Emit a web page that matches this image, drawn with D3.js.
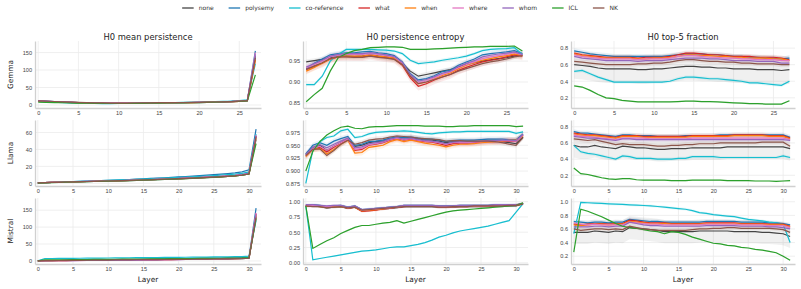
<!DOCTYPE html>
<html>
<head>
<meta charset="utf-8">
<script src="https://cdn.jsdelivr.net/npm/d3@7"></script>
<style>
  body { margin: 0; background: #fff; }
  svg { font-family: "DejaVu Sans", sans-serif; }
  .grid line { stroke: #ebebeb; stroke-width: 0.8; }
  .tick text { fill: #444; }
</style>
</head>
<body>
<div id="chart"></div>
<script>
var seriesNames = ["none", "polysemy", "co-reference", "what", "when", "where", "whom", "ICL", "NK"];
var seriesColors = ["#444444", "#1f77b4", "#17becf", "#d62728", "#ff7f0e", "#e377c2", "#9467bd", "#2ca02c", "#8c564b"];
var modelNames = ["Gemma", "Llama", "Mistral"];
var metricTitles = ["H0 mean persistence", "H0 persistence entropy", "H0 top-5 fraction"];

var gemmaLayers = d3.range(28);
var llamaLayers = d3.range(32);
var mistralLayers = d3.range(32);

// ---- Gemma: H0 mean persistence
var gemmaMeanNone = [11,10,9,8,7,6.5,6,5.5,5.2,5,5,5,5.2,5.5,5.8,6,6.2,6.4,6.5,6.8,7,7.4,8,8.6,9.4,10.5,12,140];
var gemmaMeanPoly = [12,11,10,9,8,7,6.5,6,5.6,5.4,5.3,5.4,5.6,5.9,6.2,6.4,6.6,6.8,7,7.3,7.6,8,8.6,9.3,10.2,11.4,13,155];
var gemmaMeanCoref = [10,9,8,7,6,5,4.5,4.2,4,4,4.2,4.5,5,5.4,5.8,6.2,6.6,7,7.4,7.8,8.3,8.8,9.4,10.1,11,12.5,15,118];
var gemmaMeanWhat = [11,10,9.2,8.4,7.6,7,6.4,6,5.6,5.4,5.3,5.3,5.5,5.7,6,6.2,6.4,6.6,6.8,7,7.3,7.7,8.2,8.8,9.6,10.6,12,130];
var gemmaMeanWhen = [10.5,9.8,9,8.2,7.4,6.8,6.2,5.8,5.5,5.3,5.2,5.2,5.4,5.6,5.9,6.1,6.3,6.5,6.7,6.9,7.2,7.6,8.1,8.7,9.5,10.5,12,128];
var gemmaMeanWhere = [11.5,10.5,9.6,8.7,7.8,7.1,6.5,6,5.6,5.4,5.3,5.3,5.5,5.8,6.1,6.3,6.5,6.7,6.9,7.1,7.4,7.8,8.3,8.9,9.7,10.8,12.3,150];
var gemmaMeanWhom = [11.8,10.8,9.8,8.9,8,7.2,6.6,6.1,5.7,5.5,5.4,5.4,5.6,5.9,6.2,6.4,6.6,6.8,7,7.2,7.5,7.9,8.4,9,9.8,10.9,12.5,145];
var gemmaMeanICL = [8,7.5,7,6.5,6,5.5,5,4.6,4.3,4.2,4.2,4.3,4.5,4.8,5.1,5.4,5.7,6,6.3,6.6,7,7.5,8,8.6,9.3,10.2,11.5,86];
var gemmaMeanNK = [12,11,10,9,8,7.3,6.7,6.2,5.8,5.6,5.5,5.5,5.7,6,6.3,6.5,6.7,6.9,7.1,7.3,7.6,8,8.5,9.1,9.9,11,12.5,135];

// ---- Gemma: H0 persistence entropy
var gemmaEntNone = [0.948,0.951,0.954,0.958,0.962,0.962,0.961,0.962,0.965,0.962,0.960,0.957,0.945,0.926,0.914,0.918,0.922,0.926,0.930,0.936,0.942,0.946,0.950,0.953,0.956,0.958,0.962,0.965];
var gemmaEntPoly = [0.932,0.945,0.955,0.965,0.968,0.970,0.970,0.972,0.973,0.970,0.968,0.963,0.948,0.920,0.905,0.908,0.915,0.925,0.928,0.940,0.948,0.955,0.965,0.968,0.970,0.972,0.975,0.968];
var gemmaEntCoref = [0.894,0.894,0.914,0.950,0.966,0.978,0.978,0.978,0.978,0.977,0.976,0.974,0.968,0.952,0.944,0.946,0.948,0.952,0.955,0.958,0.962,0.968,0.975,0.978,0.979,0.980,0.982,0.966];
var gemmaEntWhat = [0.930,0.938,0.945,0.955,0.960,0.961,0.960,0.960,0.963,0.960,0.958,0.955,0.940,0.910,0.890,0.896,0.905,0.912,0.918,0.928,0.935,0.942,0.948,0.952,0.955,0.960,0.965,0.962];
var gemmaEntWhen = [0.926,0.935,0.945,0.955,0.960,0.962,0.962,0.962,0.965,0.962,0.960,0.957,0.943,0.914,0.896,0.900,0.908,0.916,0.922,0.932,0.940,0.946,0.952,0.956,0.960,0.963,0.967,0.963];
var gemmaEntWhere = [0.934,0.942,0.950,0.960,0.964,0.966,0.966,0.966,0.968,0.966,0.963,0.960,0.945,0.916,0.898,0.902,0.910,0.918,0.924,0.934,0.942,0.948,0.956,0.960,0.963,0.966,0.970,0.965];
var gemmaEntWhom = [0.936,0.944,0.952,0.962,0.966,0.968,0.968,0.968,0.970,0.968,0.965,0.961,0.947,0.918,0.902,0.906,0.913,0.921,0.926,0.937,0.945,0.951,0.960,0.964,0.967,0.969,0.972,0.966];
var gemmaEntICL = [0.853,0.870,0.885,0.926,0.958,0.968,0.975,0.978,0.982,0.983,0.984,0.984,0.983,0.978,0.978,0.978,0.979,0.980,0.981,0.982,0.983,0.984,0.984,0.985,0.985,0.985,0.986,0.974];
var gemmaEntNK = [0.930,0.938,0.946,0.956,0.960,0.960,0.959,0.959,0.962,0.959,0.957,0.954,0.942,0.914,0.896,0.900,0.906,0.912,0.918,0.926,0.932,0.938,0.944,0.948,0.951,0.955,0.960,0.963];

// ---- Gemma: H0 top-5 fraction
var gemmaTopNone = [0.60,0.59,0.58,0.56,0.55,0.55,0.55,0.55,0.54,0.54,0.55,0.55,0.56,0.57,0.58,0.58,0.57,0.57,0.56,0.56,0.55,0.55,0.55,0.54,0.54,0.54,0.53,0.54];
var gemmaTopPoly = [0.767,0.75,0.73,0.72,0.71,0.70,0.70,0.70,0.70,0.70,0.70,0.70,0.71,0.72,0.73,0.73,0.73,0.72,0.72,0.71,0.70,0.70,0.69,0.69,0.68,0.68,0.67,0.68];
var gemmaTopCoref = [0.52,0.53,0.49,0.45,0.42,0.39,0.39,0.39,0.39,0.39,0.39,0.39,0.40,0.43,0.45,0.45,0.44,0.43,0.43,0.42,0.41,0.40,0.38,0.38,0.37,0.36,0.35,0.40];
var gemmaTopWhat = [0.74,0.72,0.71,0.70,0.69,0.69,0.69,0.69,0.68,0.69,0.69,0.69,0.70,0.72,0.74,0.74,0.73,0.72,0.72,0.71,0.70,0.70,0.70,0.69,0.69,0.69,0.68,0.66];
var gemmaTopWhen = [0.73,0.71,0.70,0.69,0.68,0.68,0.68,0.68,0.67,0.67,0.68,0.68,0.69,0.70,0.72,0.72,0.71,0.71,0.70,0.70,0.69,0.69,0.68,0.68,0.68,0.67,0.67,0.65];
var gemmaTopWhere = [0.72,0.70,0.69,0.68,0.67,0.67,0.67,0.67,0.66,0.67,0.67,0.67,0.68,0.70,0.71,0.71,0.70,0.69,0.69,0.68,0.68,0.67,0.67,0.66,0.66,0.66,0.65,0.65];
var gemmaTopWhom = [0.70,0.68,0.67,0.66,0.65,0.65,0.65,0.65,0.64,0.65,0.65,0.65,0.66,0.67,0.68,0.68,0.68,0.67,0.67,0.66,0.65,0.65,0.65,0.64,0.64,0.64,0.62,0.62];
var gemmaTopICL = [0.344,0.33,0.29,0.24,0.20,0.19,0.17,0.16,0.15,0.15,0.15,0.15,0.15,0.155,0.16,0.16,0.155,0.155,0.15,0.145,0.14,0.135,0.13,0.13,0.125,0.125,0.125,0.165];
var gemmaTopNK = [0.64,0.63,0.62,0.61,0.60,0.60,0.60,0.60,0.61,0.61,0.62,0.62,0.63,0.65,0.66,0.66,0.65,0.64,0.64,0.63,0.63,0.62,0.62,0.61,0.61,0.61,0.60,0.60];

// ---- Llama: H0 mean persistence
var llamaMeanNone = [0.5,0.8,1,1.2,1.4,1.6,1.8,2,2.2,2.4,2.6,2.8,3,3.2,3.5,3.8,4.1,4.4,4.7,5,5.3,5.6,6,6.4,6.8,7.2,7.6,8.1,8.7,9.5,11,52];
var llamaMeanPoly = [0.5,0.9,1.2,1.5,1.8,2.1,2.4,2.7,3,3.3,3.6,3.9,4.2,4.5,4.9,5.3,5.7,6.1,6.5,7,7.5,8,8.5,9,9.6,10.2,10.8,11.5,12.3,13.5,16,64];
var llamaMeanCoref = [0.4,0.8,1.1,1.4,1.7,2,2.3,2.6,2.9,3.2,3.5,3.8,4.1,4.4,4.7,5,5.3,5.7,6.1,6.5,6.9,7.3,7.7,8.1,8.6,9.1,9.6,10.2,10.9,11.8,13.5,58];
var llamaMeanWhat = [0.5,0.8,1.1,1.3,1.5,1.7,1.9,2.1,2.3,2.5,2.7,2.9,3.1,3.4,3.7,4,4.3,4.6,4.9,5.2,5.5,5.9,6.3,6.7,7.1,7.5,8,8.5,9.1,9.9,11.5,56];
var llamaMeanWhen = [0.5,0.8,1,1.3,1.5,1.7,1.9,2.1,2.3,2.5,2.7,2.9,3.1,3.3,3.6,3.9,4.2,4.5,4.8,5.1,5.4,5.8,6.2,6.6,7,7.4,7.9,8.4,9,9.8,11.3,54];
var llamaMeanWhere = [0.5,0.8,1.1,1.3,1.5,1.8,2,2.2,2.4,2.6,2.8,3,3.2,3.5,3.8,4.1,4.4,4.7,5,5.3,5.6,6,6.4,6.8,7.2,7.7,8.2,8.7,9.3,10.1,11.8,57];
var llamaMeanWhom = [0.5,0.8,1.1,1.3,1.6,1.8,2,2.2,2.4,2.6,2.8,3,3.2,3.5,3.8,4.1,4.4,4.7,5,5.3,5.7,6.1,6.5,6.9,7.3,7.8,8.3,8.8,9.4,10.2,12,56];
var llamaMeanICL = [0.3,0.6,0.9,1.1,1.3,1.5,1.7,1.9,2.1,2.3,2.5,2.7,2.9,3.1,3.4,3.7,4,4.3,4.6,4.9,5.2,5.5,5.9,6.3,6.7,7.1,7.6,8.1,8.7,9.5,11,47];
var llamaMeanNK = [0.5,0.8,1,1.2,1.5,1.7,1.9,2.1,2.3,2.5,2.7,2.9,3.1,3.3,3.6,3.9,4.2,4.5,4.8,5.1,5.4,5.7,6.1,6.5,6.9,7.3,7.7,8.2,8.8,9.6,11,55];

// ---- Llama: H0 persistence entropy
var llamaEntNone = [0.932,0.945,0.950,0.940,0.948,0.955,0.962,0.948,0.950,0.955,0.957,0.958,0.962,0.965,0.965,0.964,0.962,0.960,0.960,0.958,0.955,0.957,0.957,0.956,0.956,0.957,0.958,0.958,0.957,0.955,0.953,0.966];
var llamaEntPoly = [0.933,0.950,0.955,0.950,0.958,0.963,0.967,0.950,0.952,0.957,0.958,0.960,0.964,0.966,0.965,0.966,0.964,0.962,0.962,0.960,0.957,0.959,0.960,0.960,0.960,0.961,0.962,0.962,0.962,0.961,0.961,0.972];
var llamaEntCoref = [0.876,0.940,0.957,0.965,0.968,0.978,0.981,0.965,0.967,0.972,0.975,0.976,0.977,0.977,0.978,0.977,0.975,0.973,0.972,0.974,0.975,0.976,0.976,0.977,0.977,0.977,0.977,0.977,0.977,0.977,0.973,0.976];
var llamaEntWhat = [0.930,0.943,0.946,0.937,0.946,0.954,0.962,0.940,0.942,0.950,0.952,0.955,0.960,0.963,0.960,0.962,0.959,0.957,0.956,0.953,0.950,0.953,0.954,0.954,0.955,0.956,0.957,0.957,0.958,0.958,0.958,0.970];
var llamaEntWhen = [0.928,0.942,0.944,0.933,0.942,0.952,0.960,0.935,0.936,0.946,0.948,0.950,0.957,0.961,0.957,0.960,0.957,0.954,0.952,0.950,0.947,0.950,0.952,0.952,0.953,0.955,0.956,0.957,0.958,0.960,0.960,0.968];
var llamaEntWhere = [0.931,0.944,0.948,0.940,0.948,0.955,0.962,0.942,0.944,0.951,0.953,0.956,0.961,0.964,0.961,0.963,0.960,0.958,0.957,0.955,0.952,0.955,0.955,0.955,0.956,0.957,0.958,0.958,0.959,0.959,0.958,0.970];
var llamaEntWhom = [0.932,0.946,0.951,0.945,0.952,0.958,0.964,0.945,0.947,0.953,0.955,0.957,0.962,0.965,0.962,0.964,0.961,0.959,0.958,0.956,0.953,0.956,0.957,0.957,0.957,0.958,0.959,0.959,0.960,0.960,0.959,0.971];
var llamaEntICL = [0.900,0.938,0.957,0.970,0.978,0.985,0.987,0.983,0.982,0.985,0.986,0.986,0.987,0.988,0.988,0.988,0.988,0.987,0.987,0.987,0.986,0.986,0.987,0.987,0.988,0.988,0.988,0.988,0.988,0.988,0.986,0.987];
var llamaEntNK = [0.930,0.942,0.943,0.930,0.940,0.952,0.960,0.952,0.955,0.960,0.962,0.963,0.966,0.968,0.967,0.966,0.964,0.963,0.962,0.961,0.958,0.959,0.959,0.958,0.958,0.958,0.958,0.957,0.955,0.952,0.950,0.965];

// ---- Llama: H0 top-5 fraction
var llamaTopNone = [0.57,0.55,0.55,0.57,0.55,0.54,0.53,0.56,0.55,0.54,0.54,0.53,0.52,0.52,0.53,0.53,0.53,0.54,0.54,0.54,0.54,0.54,0.55,0.55,0.55,0.55,0.55,0.55,0.55,0.55,0.55,0.53];
var llamaTopPoly = [0.74,0.72,0.72,0.71,0.70,0.69,0.68,0.70,0.70,0.69,0.69,0.69,0.68,0.68,0.68,0.68,0.69,0.69,0.69,0.69,0.69,0.70,0.70,0.70,0.70,0.70,0.70,0.70,0.70,0.70,0.70,0.67];
var llamaTopCoref = [0.57,0.49,0.47,0.46,0.44,0.42,0.40,0.44,0.43,0.41,0.41,0.41,0.40,0.40,0.40,0.41,0.41,0.43,0.43,0.43,0.43,0.42,0.42,0.42,0.42,0.42,0.42,0.42,0.42,0.42,0.44,0.42];
var llamaTopWhat = [0.72,0.71,0.70,0.70,0.69,0.68,0.67,0.69,0.69,0.69,0.68,0.68,0.68,0.68,0.68,0.68,0.68,0.69,0.69,0.69,0.69,0.69,0.69,0.70,0.70,0.70,0.70,0.70,0.69,0.69,0.69,0.66];
var llamaTopWhen = [0.71,0.70,0.69,0.69,0.68,0.67,0.66,0.68,0.68,0.68,0.67,0.67,0.67,0.67,0.67,0.67,0.67,0.68,0.68,0.68,0.68,0.68,0.68,0.69,0.69,0.69,0.69,0.69,0.68,0.68,0.68,0.65];
var llamaTopWhere = [0.70,0.68,0.68,0.67,0.66,0.65,0.64,0.66,0.66,0.66,0.66,0.65,0.65,0.65,0.65,0.65,0.65,0.66,0.66,0.66,0.66,0.66,0.66,0.66,0.66,0.66,0.66,0.66,0.66,0.66,0.66,0.64];
var llamaTopWhom = [0.68,0.67,0.66,0.66,0.65,0.64,0.63,0.65,0.65,0.64,0.64,0.64,0.64,0.64,0.64,0.64,0.64,0.64,0.64,0.64,0.64,0.64,0.64,0.64,0.64,0.64,0.64,0.64,0.64,0.64,0.64,0.63];
var llamaTopICL = [0.29,0.22,0.21,0.19,0.17,0.155,0.15,0.16,0.16,0.145,0.14,0.14,0.14,0.14,0.135,0.135,0.135,0.14,0.14,0.14,0.14,0.14,0.135,0.135,0.135,0.135,0.13,0.13,0.13,0.125,0.13,0.135];
var llamaTopNK = [0.65,0.64,0.63,0.64,0.62,0.60,0.58,0.59,0.58,0.58,0.58,0.57,0.56,0.56,0.57,0.57,0.58,0.58,0.59,0.59,0.59,0.60,0.60,0.60,0.60,0.60,0.60,0.61,0.61,0.61,0.61,0.56];

// ---- Mistral: H0 mean persistence
var mistralMeanNone = [0.5,1,1.2,1.4,1.6,1.8,2,2.2,2.4,2.6,2.8,3,3.2,3.4,3.6,3.8,4,4.2,4.4,4.6,4.8,5,5.2,5.4,5.6,5.8,6,6.3,6.6,7,8,132];
var mistralMeanPoly = [0.6,1.2,1.5,1.8,2.1,2.4,2.7,3,3.3,3.6,3.9,4.2,4.5,4.8,5.1,5.4,5.7,6,6.3,6.6,6.9,7.2,7.5,7.8,8.1,8.4,8.7,9,9.4,9.8,10.5,156];
var mistralMeanCoref = [0.5,7,7.2,7.4,7.6,7.8,8,8.2,8.4,8.6,8.8,9,9.2,9.4,9.6,9.8,10,10.2,10.4,10.6,10.8,11,11.2,11.4,11.6,11.8,12,12.3,12.6,13,14,120];
var mistralMeanWhat = [0.5,0.8,1,1.1,1.2,1.3,1.4,1.5,1.6,1.8,2,2.2,2.4,2.6,2.8,3,3.2,3.5,3.8,4.1,4.4,4.7,5,5.3,5.6,5.9,6.2,6.5,6.8,7.2,8,140];
var mistralMeanWhen = [0.5,0.8,1,1.1,1.2,1.3,1.4,1.5,1.6,1.8,2,2.2,2.4,2.6,2.8,3,3.2,3.5,3.8,4.1,4.4,4.7,5,5.3,5.6,5.9,6.2,6.5,6.8,7.2,8,135];
var mistralMeanWhere = [0.5,0.7,0.8,0.9,1,1.1,1.2,1.3,1.4,1.5,1.6,1.7,1.8,1.9,2,2.2,2.6,3,3.4,3.8,4.2,4.6,5,5.4,5.8,6.2,6.6,7,7.4,7.8,8.5,142];
var mistralMeanWhom = [0.5,0.8,0.9,1,1.1,1.2,1.3,1.4,1.5,1.6,1.8,2,2.2,2.4,2.6,2.8,3,3.3,3.6,3.9,4.2,4.5,4.8,5.1,5.4,5.7,6,6.4,6.8,7.2,8,138];
var mistralMeanICL = [0.5,3,3.2,3.4,3.6,3.8,4,4.2,4.4,4.6,4.8,5,5.2,5.4,5.6,5.8,6,6.2,6.4,6.6,6.8,7,7.2,7.4,7.6,7.8,8,8.3,8.6,9,10,125];
var mistralMeanNK = [0.5,0.9,1.1,1.3,1.5,1.7,1.9,2.1,2.3,2.5,2.7,2.9,3.1,3.3,3.5,3.7,3.9,4.1,4.3,4.5,4.7,4.9,5.1,5.3,5.5,5.7,5.9,6.2,6.5,6.9,8,128];

// ---- Mistral: H0 persistence entropy
var mistralEntNone = [0.93,0.93,0.92,0.90,0.91,0.92,0.89,0.91,0.85,0.86,0.87,0.88,0.89,0.90,0.92,0.92,0.92,0.92,0.92,0.91,0.91,0.91,0.92,0.92,0.92,0.92,0.92,0.93,0.93,0.93,0.93,0.97];
var mistralEntPoly = [0.94,0.95,0.94,0.92,0.93,0.94,0.91,0.93,0.87,0.88,0.89,0.90,0.91,0.92,0.94,0.94,0.94,0.94,0.94,0.93,0.93,0.93,0.94,0.94,0.94,0.94,0.94,0.95,0.95,0.95,0.95,0.97];
var mistralEntCoref = [0.93,0.05,0.07,0.09,0.11,0.13,0.15,0.17,0.19,0.20,0.21,0.23,0.25,0.26,0.26,0.28,0.30,0.33,0.37,0.42,0.45,0.49,0.52,0.54,0.56,0.58,0.60,0.63,0.66,0.69,0.83,0.97];
var mistralEntWhat = [0.93,0.93,0.93,0.91,0.92,0.93,0.89,0.91,0.84,0.85,0.86,0.88,0.89,0.91,0.92,0.93,0.93,0.93,0.93,0.91,0.91,0.92,0.92,0.92,0.93,0.93,0.93,0.93,0.94,0.94,0.94,0.97];
var mistralEntWhen = [0.93,0.94,0.92,0.91,0.92,0.92,0.90,0.91,0.85,0.86,0.87,0.88,0.90,0.91,0.93,0.93,0.93,0.93,0.93,0.92,0.92,0.92,0.93,0.93,0.93,0.93,0.93,0.94,0.94,0.94,0.94,0.97];
var mistralEntWhere = [0.94,0.94,0.93,0.92,0.93,0.93,0.90,0.92,0.86,0.87,0.88,0.89,0.90,0.91,0.93,0.93,0.93,0.93,0.93,0.92,0.92,0.92,0.93,0.93,0.93,0.93,0.93,0.94,0.94,0.94,0.95,0.97];
var mistralEntWhom = [0.95,0.95,0.94,0.93,0.94,0.94,0.91,0.93,0.87,0.88,0.89,0.90,0.91,0.92,0.94,0.94,0.94,0.94,0.94,0.93,0.93,0.93,0.94,0.94,0.94,0.94,0.94,0.95,0.95,0.95,0.95,0.97];
var mistralEntICL = [0.93,0.235,0.30,0.36,0.41,0.48,0.53,0.58,0.61,0.61,0.63,0.65,0.66,0.69,0.65,0.68,0.71,0.74,0.77,0.80,0.83,0.85,0.86,0.87,0.88,0.89,0.90,0.91,0.92,0.93,0.94,0.98];
var mistralEntNK = [0.93,0.92,0.92,0.90,0.91,0.92,0.90,0.91,0.86,0.87,0.88,0.89,0.90,0.91,0.92,0.92,0.92,0.92,0.92,0.91,0.91,0.92,0.92,0.92,0.93,0.93,0.93,0.93,0.93,0.94,0.94,0.96];

// ---- Mistral: H0 top-5 fraction
var mistralTopNone = [0.55,0.55,0.55,0.57,0.56,0.55,0.57,0.56,0.62,0.61,0.60,0.59,0.58,0.56,0.56,0.56,0.56,0.56,0.57,0.57,0.57,0.57,0.57,0.56,0.56,0.56,0.56,0.55,0.55,0.54,0.53,0.49];
var mistralTopPoly = [0.71,0.70,0.69,0.70,0.70,0.69,0.70,0.70,0.74,0.73,0.72,0.71,0.71,0.70,0.70,0.70,0.70,0.70,0.70,0.71,0.71,0.71,0.71,0.71,0.70,0.70,0.70,0.70,0.69,0.69,0.68,0.66];
var mistralTopCoref = [0.53,0.99,0.985,0.98,0.975,0.97,0.965,0.96,0.955,0.95,0.945,0.94,0.93,0.92,0.91,0.90,0.89,0.87,0.84,0.83,0.81,0.80,0.79,0.78,0.76,0.74,0.73,0.72,0.70,0.69,0.67,0.40];
var mistralTopWhat = [0.67,0.66,0.67,0.68,0.68,0.67,0.68,0.68,0.73,0.72,0.70,0.69,0.69,0.69,0.68,0.68,0.68,0.68,0.68,0.69,0.69,0.69,0.69,0.69,0.68,0.68,0.68,0.68,0.67,0.67,0.67,0.64];
var mistralTopWhen = [0.66,0.65,0.66,0.67,0.67,0.66,0.67,0.67,0.71,0.70,0.69,0.68,0.68,0.68,0.67,0.67,0.67,0.67,0.67,0.68,0.68,0.68,0.68,0.68,0.67,0.67,0.67,0.67,0.66,0.66,0.66,0.63];
var mistralTopWhere = [0.69,0.67,0.66,0.67,0.66,0.66,0.66,0.66,0.70,0.69,0.68,0.67,0.67,0.66,0.66,0.66,0.66,0.66,0.66,0.67,0.67,0.67,0.67,0.67,0.66,0.66,0.66,0.66,0.65,0.65,0.65,0.62];
var mistralTopWhom = [0.63,0.63,0.63,0.64,0.64,0.63,0.64,0.64,0.70,0.68,0.66,0.65,0.65,0.64,0.64,0.64,0.64,0.64,0.64,0.65,0.65,0.65,0.65,0.65,0.64,0.64,0.64,0.64,0.63,0.63,0.62,0.60];
var mistralTopICL = [0.26,0.89,0.86,0.82,0.78,0.73,0.68,0.64,0.62,0.61,0.59,0.57,0.56,0.53,0.56,0.55,0.52,0.48,0.45,0.42,0.39,0.38,0.36,0.35,0.33,0.32,0.30,0.29,0.27,0.25,0.20,0.14];
var mistralTopNK = [0.60,0.58,0.59,0.60,0.60,0.59,0.60,0.59,0.64,0.62,0.60,0.59,0.58,0.58,0.58,0.58,0.58,0.59,0.60,0.60,0.61,0.61,0.62,0.62,0.61,0.61,0.61,0.61,0.61,0.60,0.59,0.55];

// shaded band half-widths per series (same order as seriesNames)
var gemmaEntBand = [0.006,0.006,0.004,0.010,0.008,0.008,0.006,0.002,0.006];
var llamaEntBand = [0.005,0.005,0.003,0.006,0.006,0.006,0.005,0.001,0.005];
var mistralEntBand = [0.02,0.02,0.01,0.02,0.02,0.02,0.02,0.01,0.02];
var gemmaTopBand = [0.17,0.03,0.02,0.03,0.03,0.03,0.03,0.01,0.03];
var llamaTopBand = [0.15,0.03,0.02,0.03,0.03,0.03,0.03,0.01,0.03];
var mistralTopBand = [0.17,0.03,0.02,0.03,0.03,0.03,0.03,0.01,0.03];

// y tick values per panel
var gemmaMeanTicks = [0, 50, 100, 150];
var gemmaEntTicks = [0.85, 0.90, 0.95];
var gemmaTopTicks = [0.2, 0.4, 0.6, 0.8];
var llamaMeanTicks = [0, 20, 40, 60];
var llamaEntTicks = [0.875, 0.900, 0.925, 0.950, 0.975];
var llamaTopTicks = [0.2, 0.4, 0.6, 0.8];
var mistralMeanTicks = [0, 50, 100, 150];
var mistralEntTicks = [0.00, 0.25, 0.50, 0.75, 1.00];
var mistralTopTicks = [0.2, 0.4, 0.6, 0.8, 1.0];
var layerTicks = [0, 5, 10, 15, 20, 25, 30];

var panels = [
    { row: 0, col: 0, x: gemmaLayers, series: [gemmaMeanNone, gemmaMeanPoly, gemmaMeanCoref, gemmaMeanWhat, gemmaMeanWhen, gemmaMeanWhere, gemmaMeanWhom, gemmaMeanICL, gemmaMeanNK], band: null, y: [-8.6, 183], ticks: gemmaMeanTicks, fmt: "d" },
    { row: 0, col: 1, x: gemmaLayers, series: [gemmaEntNone, gemmaEntPoly, gemmaEntCoref, gemmaEntWhat, gemmaEntWhen, gemmaEntWhere, gemmaEntWhom, gemmaEntICL, gemmaEntNK], band: gemmaEntBand, y: [0.838, 0.998], ticks: gemmaEntTicks, fmt: ".2f" },
    { row: 0, col: 2, x: gemmaLayers, series: [gemmaTopNone, gemmaTopPoly, gemmaTopCoref, gemmaTopWhat, gemmaTopWhen, gemmaTopWhere, gemmaTopWhom, gemmaTopICL, gemmaTopNK], band: gemmaTopBand, y: [0.077, 0.886], ticks: gemmaTopTicks, fmt: ".1f" },
    { row: 1, col: 0, x: llamaLayers, series: [llamaMeanNone, llamaMeanPoly, llamaMeanCoref, llamaMeanWhat, llamaMeanWhen, llamaMeanWhere, llamaMeanWhom, llamaMeanICL, llamaMeanNK], band: null, y: [-3.2, 74.8], ticks: llamaMeanTicks, fmt: "d" },
    { row: 1, col: 1, x: llamaLayers, series: [llamaEntNone, llamaEntPoly, llamaEntCoref, llamaEntWhat, llamaEntWhen, llamaEntWhere, llamaEntWhom, llamaEntICL, llamaEntNK], band: llamaEntBand, y: [0.871, 0.999], ticks: llamaEntTicks, fmt: ".3f" },
    { row: 1, col: 2, x: llamaLayers, series: [llamaTopNone, llamaTopPoly, llamaTopCoref, llamaTopWhat, llamaTopWhen, llamaTopWhere, llamaTopWhom, llamaTopICL, llamaTopNK], band: llamaTopBand, y: [0.068, 0.883], ticks: llamaTopTicks, fmt: ".1f" },
    { row: 2, col: 0, x: mistralLayers, series: [mistralMeanNone, mistralMeanPoly, mistralMeanCoref, mistralMeanWhat, mistralMeanWhen, mistralMeanWhere, mistralMeanWhom, mistralMeanICL, mistralMeanNK], band: null, y: [-9, 186], ticks: mistralMeanTicks, fmt: "d" },
    { row: 2, col: 1, x: mistralLayers, series: [mistralEntNone, mistralEntPoly, mistralEntCoref, mistralEntWhat, mistralEntWhen, mistralEntWhere, mistralEntWhom, mistralEntICL, mistralEntNK], band: mistralEntBand, y: [-0.02, 1.06], ticks: mistralEntTicks, fmt: ".2f" },
    { row: 2, col: 2, x: mistralLayers, series: [mistralTopNone, mistralTopPoly, mistralTopCoref, mistralTopWhat, mistralTopWhen, mistralTopWhere, mistralTopWhom, mistralTopICL, mistralTopNK], band: mistralTopBand, y: [0.085, 1.055], ticks: mistralTopTicks, fmt: ".1f" }
];

var colLeft = [35, 303, 571];
var colRight = [261, 528, 795];
var rowTop = [41, 120, 198];
var rowBottom = [108, 186, 264];

var svg = d3.select("#chart").append("svg")
    .attr("width", 801)
    .attr("height", 289);

panels.forEach(function (p) {
    var left = colLeft[p.col], right = colRight[p.col];
    var top = rowTop[p.row], bottom = rowBottom[p.row];
    var n = p.x.length;

    var x = d3.scaleLinear().domain([-0.4, n - 1 + 0.7]).range([left, right]);
    var y = d3.scaleLinear().domain(p.y).range([bottom, top]);

    var g = svg.append("g");

    // grid
    var grid = g.append("g").attr("class", "grid");
    grid.selectAll(".gx").data(layerTicks.filter(function (t) { return t <= n - 1; }))
        .enter().append("line")
        .attr("x1", function (d) { return x(d); }).attr("x2", function (d) { return x(d); })
        .attr("y1", top).attr("y2", bottom);
    grid.selectAll(".gy").data(p.ticks)
        .enter().append("line")
        .attr("x1", left).attr("x2", right)
        .attr("y1", function (d) { return y(d); }).attr("y2", function (d) { return y(d); });

    // axes
    var xAxis = g.append("g")
        .attr("transform", "translate(0," + bottom + ")")
        .call(d3.axisBottom(x).tickValues(layerTicks.filter(function (t) { return t <= n - 1; })).tickSize(0).tickPadding(3).tickFormat(d3.format("d")));
    var yAxis = g.append("g")
        .attr("transform", "translate(" + left + ",0)")
        .call(d3.axisLeft(y).tickValues(p.ticks).tickSize(0).tickPadding(3).tickFormat(d3.format(p.fmt)));
    [xAxis, yAxis].forEach(function (a) {
        a.select(".domain").attr("stroke", "#d0d0d0").attr("stroke-width", 1.3);
        a.selectAll("text").attr("font-size", 5.6).attr("fill", "#444");
    });

    // bands
    if (p.band) {
        p.series.forEach(function (vals, i) {
            var area = d3.area()
                .x(function (d, j) { return x(p.x[j]); })
                .y0(function (d) { return y(d - p.band[i]); })
                .y1(function (d) { return y(d + p.band[i]); });
            g.append("path")
                .datum(vals)
                .attr("d", area)
                .attr("fill", seriesColors[i])
                .attr("fill-opacity", i === 0 ? 0.08 : 0.1);
        });
    }

    // lines
    p.series.forEach(function (vals, i) {
        var line = d3.line()
            .x(function (d, j) { return x(p.x[j]); })
            .y(function (d) { return y(d); });
        g.append("path")
            .datum(vals)
            .attr("d", line)
            .attr("fill", "none")
            .attr("stroke", seriesColors[i])
            .attr("stroke-width", 1.2);
    });

    if (p.row === 0) {
        svg.append("text")
            .attr("x", (left + right) / 2)
            .attr("y", 39.5)
            .attr("text-anchor", "middle")
            .attr("font-size", 8.4)
            .attr("fill", "#222")
            .text(metricTitles[p.col]);
    }
    if (p.row === 2) {
        svg.append("text")
            .attr("x", (left + right) / 2)
            .attr("y", 281.5)
            .attr("text-anchor", "middle")
            .attr("font-size", 7.4)
            .attr("fill", "#222")
            .text("Layer");
    }
    if (p.col === 0) {
        svg.append("text")
            .attr("transform", "translate(13," + ((top + bottom) / 2) + ") rotate(-90)")
            .attr("text-anchor", "middle")
            .attr("font-size", 7.4)
            .attr("fill", "#222")
            .text(modelNames[p.row]);
    }
});

// legend
var legend = svg.append("g");
var cursor = 0;
seriesNames.forEach(function (name, i) {
    var item = legend.append("g").attr("transform", "translate(" + cursor + ",0)");
    item.append("line")
        .attr("x1", 0).attr("x2", 11.5)
        .attr("y1", 8).attr("y2", 8)
        .attr("stroke", seriesColors[i])
        .attr("stroke-width", 1.3);
    var t = item.append("text")
        .attr("x", 16.5)
        .attr("y", 10)
        .attr("font-size", 6)
        .attr("fill", "#333")
        .text(name);
    cursor += 16.5 + t.node().getComputedTextLength() + 15;
});
var legendWidth = cursor - 15;
legend.attr("transform", "translate(" + (400 - legendWidth / 2) + ",0)");
</script>
</body>
</html>
